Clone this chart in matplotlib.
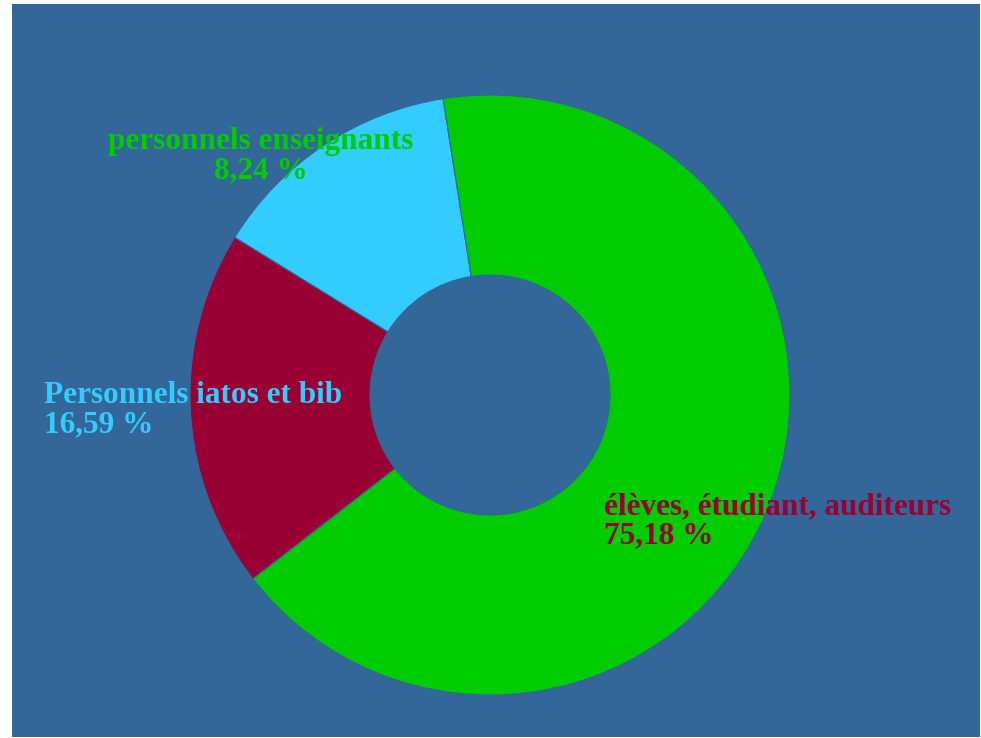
import matplotlib.pyplot as plt
from matplotlib.patches import Rectangle

# slices in drawing order (counter-clockwise from the top boundary)
slice_names = ["personnels enseignants", "Personnels iatos et bib", "élèves, étudiant, auditeurs"]
slice_shares = [13.7, 19.3, 67.0]          # share of the ring as drawn in the picture
label_pcts = ["8,24 %", "16,59 %", "75,18 %"]  # percentages printed on the chart
slice_colors = ["#33CCFF", "#990033", "#00CC00"]
label_colors = ["#00CC00", "#33CCFF", "#990033"]

bg = "#336699"

fig = plt.figure(figsize=(9.81, 7.38), dpi=100, facecolor="white")
# blue panel behind the chart
fig.patches.append(Rectangle((12 / 981, 1 / 738), 968 / 981, 733 / 738,
                             transform=fig.transFigure, facecolor=bg, edgecolor="none", zorder=-10))

ax = fig.add_axes([0, 0, 1, 1])
ax.set_facecolor("none")
ax.pie(slice_shares, colors=slice_colors, startangle=99.0, counterclock=True,
       radius=1.0, wedgeprops=dict(width=0.6, edgecolor=bg, linewidth=0.8))

# 1 data unit = 300 px, centre of ring at pixel (490, 395)
ax.set_xlim(-490 / 300, (981 - 490) / 300)
ax.set_ylim(-(738 - 395) / 300, 395 / 300)
ax.set_aspect("equal")
ax.axis("off")

font = dict(family=["Liberation Serif", "DejaVu Serif"], fontweight="bold", fontsize=22.5)
ax.text(-0.763, 0.795, slice_names[0] + "\n" + label_pcts[0], color=label_colors[0],
        ha="center", va="center", multialignment="center", linespacing=1.0, **font)
ax.text(-1.487, -0.05, slice_names[1] + "\n" + label_pcts[1], color=label_colors[1],
        ha="left", va="center", multialignment="left", linespacing=1.0, **font)
ax.text(0.38, -0.42, slice_names[2] + "\n" + label_pcts[2], color=label_colors[2],
        ha="left", va="center", multialignment="left", linespacing=1.0, **font)

fig.savefig("out.png", dpi=100, facecolor="white")
